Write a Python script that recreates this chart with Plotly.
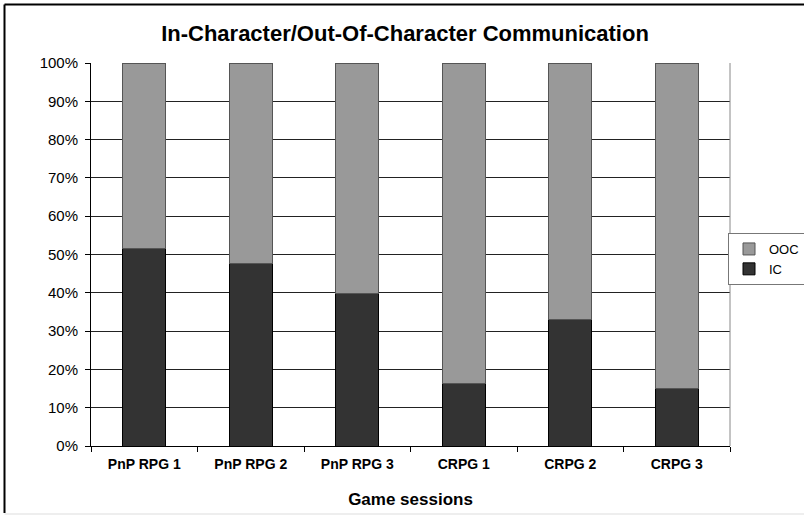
import plotly.graph_objects as go

categories = ["PnP RPG 1", "PnP RPG 2", "PnP RPG 3", "CRPG 1", "CRPG 2", "CRPG 3"]
ic_values = [51.5, 47.7, 39.8, 16.2, 33.1, 14.9]
ooc_values = [48.5, 52.3, 60.2, 83.8, 66.9, 85.1]
y_ticks = [0, 10, 20, 30, 40, 50, 60, 70, 80, 90, 100]

W, H = 804, 516
L, R, T, B = 91, 74, 63, 70
pw, ph = W - L - R, H - T - B

def px2x(p):
    return (p - L) / pw

def py2y(p):
    return (H - B - p) / ph

fig = go.Figure()
fig.add_trace(go.Bar(
    x=categories, y=ic_values, name="IC",
    marker=dict(color="#333333", line=dict(color="#000000", width=1)),
))
fig.add_trace(go.Bar(
    x=categories, y=ooc_values, name="OOC",
    marker=dict(color="#999999", line=dict(color="#555555", width=1)),
))

font_family = "Liberation Sans, Arial, sans-serif"

fig.update_layout(
    width=W, height=H, autosize=False,
    barmode="stack", bargap=0.6,
    paper_bgcolor="white", plot_bgcolor="white",
    margin=dict(l=L, r=R, t=T, b=B, pad=0, autoexpand=False),
    font=dict(family=font_family, color="#000000", size=14),
    title=dict(
        text="<b>In-Character/Out-Of-Character Communication</b>",
        x=405 / W, xref="container", xanchor="center",
        y=1 - 33 / H, yref="container", yanchor="middle",
        font=dict(size=22, family=font_family, color="#000000"),
    ),
    legend=dict(
        x=px2x(728), y=py2y(233), xanchor="left", yanchor="top",
        traceorder="reversed", bgcolor="white",
        bordercolor="#777777", borderwidth=1,
        font=dict(size=13, family=font_family),
        itemwidth=30, tracegroupgap=0,
    ),
    xaxis=dict(
        type="category", showgrid=False, showline=True, linecolor="#000000", linewidth=1,
        ticks="outside", tickson="boundaries", ticklen=5, tickcolor="#000000",
        tickfont=dict(size=14, family=font_family), ticklabelstandoff=5,
        ticktext=["<b>%s</b>" % c for c in categories], tickvals=categories,
        title=dict(text="<b>Game sessions</b>", font=dict(size=17, family=font_family), standoff=22),
    ),
    yaxis=dict(
        range=[0, 100], tickvals=y_ticks, ticktext=["%d%%" % v for v in y_ticks],
        showgrid=True, gridcolor="#222222", gridwidth=1,
        showline=True, linecolor="#000000", linewidth=1,
        ticks="outside", ticklen=5, tickcolor="#000000",
        tickfont=dict(size=15, family=font_family), ticklabelstandoff=4,
        zeroline=False,
    ),
    shapes=[
        dict(type="line", xref="paper", yref="paper", x0=1, x1=1, y0=0, y1=1,
             line=dict(color="#888888", width=1)),
        dict(type="line", xref="paper", yref="paper", x0=px2x(4.5), x1=px2x(820),
             y0=py2y(4.5), y1=py2y(4.5), line=dict(color="#000000", width=2)),
        dict(type="line", xref="paper", yref="paper", x0=px2x(4.5), x1=px2x(4.5),
             y0=py2y(4.5), y1=py2y(513), line=dict(color="#000000", width=2)),
        dict(type="line", xref="paper", yref="paper", x0=px2x(4.5), x1=px2x(820),
             y0=py2y(514), y1=py2y(514), line=dict(color="#dddddd", width=1)),
    ],
)

fig.write_html(
    "out.html",
    config={"displayModeBar": False},
    post_script="document.body.style.margin='0';document.body.style.overflow='hidden';",
)
